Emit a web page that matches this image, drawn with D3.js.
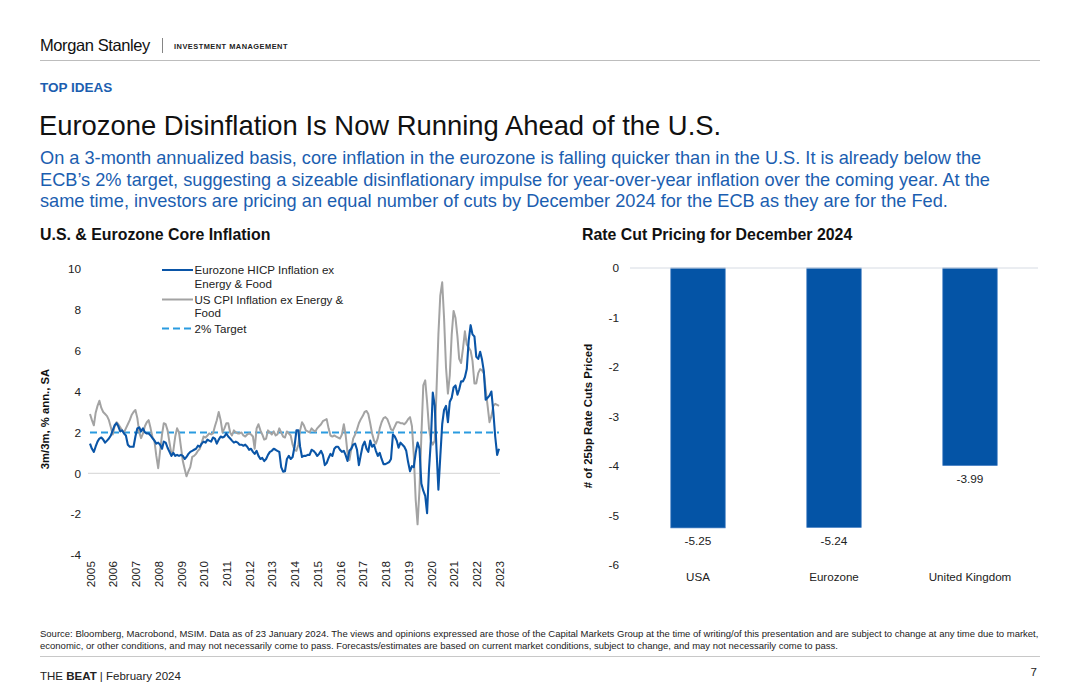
<!DOCTYPE html>
<html>
<head>
<meta charset="utf-8">
<script src="https://cdn.jsdelivr.net/npm/d3@7"></script>
<style>
  body { margin: 0; background: #fff; }
  svg text { font-family: "Liberation Sans", Arial, Helvetica, sans-serif; }
</style>
</head>
<body>
<svg id="page" width="1080" height="699"></svg>
<script>
// monthly series, Dec 2005 .. Dec 2023 (one row per year)
const firstMonth = new Date(2005, 11, 1);

const euroCore = [
  1.45,
  1.2, 1.05, 1.3, 1.55, 1.7, 1.75, 1.65, 1.5, 1.6, 1.7, 1.85, 2.1,
  2.35, 2.45, 2.3, 2.05, 2.1, 1.95, 1.85, 1.4, 1.3, 1.3, 1.3, 1.8,
  2.2, 2.25, 2.05, 2.2, 2.0, 1.95, 1.95, 1.85, 1.72, 1.6, 1.45, 1.5,
  1.4, 1.2, 1.55, 1.5, 1.25, 1.05, 0.85, 1.0, 0.85, 0.9, 0.85, 0.9,
  0.85, 0.7, 0.8, 0.95, 1.05, 1.1, 1.15, 1.2, 1.35, 1.3, 1.45, 1.55,
  1.5, 1.65, 1.6, 1.55, 1.75, 1.7, 1.45, 1.65, 1.8, 1.75, 1.8, 1.95,
  1.8, 1.7, 1.6, 1.5, 1.55, 1.5, 1.4, 1.4, 1.35, 1.4, 1.3, 1.15,
  1.2, 1.05, 0.95, 1.1, 0.85, 0.7, 0.75, 0.6, 0.7, 0.9, 1.05, 1.1,
  1.2, 1.15, 1.1, 1.05, 0.3, 0.08, 0.1, 0.7, 0.85, 0.7, 0.8, 1.3,
  2.1, 2.1, 1.3, 0.8, 0.85, 0.85, 0.9, 0.9, 1.15, 1.1, 1.0, 0.85,
  0.95, 1.1, 0.9, 0.4, 0.5, 0.75, 0.95, 0.85, 1.2, 1.3, 1.3, 1.15,
  1.05, 1.1, 0.9, 0.6, 1.1, 1.2, 1.4, 1.45, 1.15, 0.4, 0.9, 1.35,
  1.55, 1.2, 1.05, 1.6, 1.3, 1.4, 1.1, 0.85, 1.0, 0.7, 0.45, 0.45,
  0.5, 0.55, 0.7, 1.9, 1.8, 1.6, 1.25, 1.5, 1.4, 1.3, 1.1, 0.55,
  0.1, 0.35, 0.3, 1.0, 1.5, 1.2, -0.5, -0.85, -1.1, -1.95, 0.2, 1.6,
  3.95, 3.3, 1.2, -0.8, 0.8, 2.4, 3.1, 3.3, 2.5, 3.5, 3.7, 4.2,
  4.3, 3.85, 4.1, 4.5, 4.5, 4.7, 5.1, 6.5, 7.25, 6.8, 6.7, 5.7,
  5.6, 5.95, 5.6, 5.0, 3.6, 3.7, 3.8, 4.0, 3.0, 1.8, 0.9, 1.2
];

const usCore = [
  2.9,
  2.6, 2.35, 2.95, 3.3, 3.55, 3.2, 3.0, 2.9, 2.8, 2.6, 2.25, 1.9,
  2.3, 2.5, 2.4, 2.25, 2.1, 2.0, 2.2, 2.4, 2.6, 2.85, 3.0, 3.1,
  2.7, 2.0, 1.72, 1.95, 2.3, 2.5, 2.6, 2.2, 1.75, 1.6, 0.85, 0.25,
  1.1, 1.9, 2.45, 2.4, 2.1, 1.5, 0.95, 1.1, 1.8, 2.2, 2.0, 1.3,
  0.6, 0.2, -0.15, 0.1, 0.3, 0.8, 0.85, 0.95, 1.1, 1.2, 1.5, 1.8,
  1.75, 1.85, 1.95, 1.9, 1.95, 2.3, 2.6, 3.0, 2.6, 2.0, 2.2, 2.45,
  2.45, 2.0, 1.85, 2.1, 2.0, 1.95, 1.95, 2.0, 1.85, 1.8, 1.9, 1.95,
  1.9, 1.8, 1.2, 2.2, 2.4, 2.1, 1.9, 1.65, 1.7, 2.1, 2.0, 1.9,
  2.05, 1.85, 1.9, 2.2, 2.0, 1.8, 1.75, 2.05, 1.95, 1.85, 1.4, 1.15,
  1.1, 1.4, 2.1, 2.5, 2.35, 2.1, 2.05, 2.0, 2.2, 2.1, 2.05, 2.2,
  2.3, 2.4, 2.55, 2.6, 2.65, 2.2, 1.85, 1.8, 1.85, 1.8, 1.75, 1.7,
  1.9, 2.4, 1.9, 1.0, 0.65, 1.2, 1.7, 1.9, 2.15, 2.45, 2.65, 2.8,
  3.0, 3.05, 2.9, 2.45, 1.95, 1.6, 1.45, 1.72, 2.2, 2.5, 2.7, 2.75,
  2.65, 2.4, 2.15, 2.1, 2.3, 2.5, 2.5, 2.45, 2.45, 2.4, 2.5, 2.65,
  2.75, 2.3, 0.9, -1.3, -2.5, -0.8, 1.8, 4.3, 4.55, 3.5, 2.2, 1.6,
  1.4, 1.6, 4.0, 6.8, 8.7, 9.35, 7.6, 5.2, 3.9, 4.8, 6.8, 7.95,
  7.6, 6.7, 5.6, 5.4, 6.1, 6.95, 6.3, 6.15, 6.0, 5.5, 4.4, 4.4,
  4.9, 5.1, 5.05, 4.9, 4.1, 3.3, 2.5, 2.8, 3.3, 3.4, 3.35, 3.3
];

const ecbTarget = 2;
const tickYears = [2005, 2006, 2007, 2008, 2009, 2010, 2011, 2012, 2013, 2014,
                   2015, 2016, 2017, 2018, 2019, 2020, 2021, 2022, 2023];
const leftTicks = [-4, -2, 0, 2, 4, 6, 8, 10];

const barCategories = ["USA", "Eurozone", "United Kingdom"];
const barValues = [-5.25, -5.24, -3.99];
const rightTicks = [0, -1, -2, -3, -4, -5, -6];

const BLUE = "#0a55a7";
const GREY = "#a3a3a3";
const TARGET = "#2a9be0";
const MSBLUE = "#1b5eb0";
const FONT = '"Liberation Sans", Arial, sans-serif';
const plain = d => String(d);   // hyphen minus like the source, not U+2212

const svg = d3.select("#page");

// ---------- header ----------
svg.append("text").attr("x", 40).attr("y", 51)
  .attr("font-size", 16.5).attr("letter-spacing", -0.4).attr("fill", "#111")
  .text("Morgan Stanley");
svg.append("line").attr("x1", 162.5).attr("x2", 162.5).attr("y1", 38).attr("y2", 53)
  .attr("stroke", "#666").attr("stroke-width", 0.8);
svg.append("text").attr("x", 174).attr("y", 48.5)
  .attr("font-size", 7.4).attr("font-weight", "bold").attr("letter-spacing", 0.5).attr("fill", "#222")
  .text("INVESTMENT MANAGEMENT");
svg.append("line").attr("x1", 40).attr("x2", 1040).attr("y1", 60.5).attr("y2", 60.5)
  .attr("stroke", "#bdbdbd").attr("stroke-width", 1);

svg.append("text").attr("x", 40).attr("y", 91.5)
  .attr("font-size", 13.5).attr("font-weight", "bold").attr("fill", MSBLUE)
  .text("TOP IDEAS");

svg.append("text").attr("x", 39).attr("y", 135)
  .attr("font-size", 27.4).attr("fill", "#111")
  .text("Eurozone Disinflation Is Now Running Ahead of the U.S.");

const subLines = [
  "On a 3-month annualized basis, core inflation in the eurozone is falling quicker than in the U.S. It is already below the",
  "ECB\u2019s 2% target, suggesting a sizeable disinflationary impulse for year-over-year inflation over the coming year. At the",
  "same time, investors are pricing an equal number of cuts by December 2024 for the ECB as they are for the Fed."
];
svg.append("g").selectAll("text").data(subLines).join("text")
  .attr("x", 40).attr("y", (d, i) => 164 + i * 21.5)
  .attr("font-size", 18.2).attr("fill", MSBLUE)
  .text(d => d);

svg.append("text").attr("x", 40).attr("y", 239.5)
  .attr("font-size", 15.9).attr("font-weight", "bold").attr("fill", "#111")
  .text("U.S. & Eurozone Core Inflation");
svg.append("text").attr("x", 582).attr("y", 239.5)
  .attr("font-size", 15.9).attr("font-weight", "bold").attr("fill", "#111")
  .text("Rate Cut Pricing for December 2024");

// ---------- left chart: core inflation lines ----------
const months = euroCore.map((d, i) => d3.timeMonth.offset(firstMonth, i));
const x = d3.scaleTime()
  .domain([firstMonth, months[months.length - 1]])
  .range([90, 499]);
const y = d3.scaleLinear().domain([-4, 10]).range([555, 269]);

const left = svg.append("g");

left.append("line")
  .attr("x1", 88).attr("x2", 500).attr("y1", y(0)).attr("y2", y(0))
  .attr("stroke", "#d3d3d3").attr("stroke-width", 1);

const yAxisL = left.append("g").attr("transform", "translate(86,0)")
  .call(d3.axisLeft(y).tickValues(leftTicks).tickFormat(plain).tickSize(0).tickPadding(5));
yAxisL.select(".domain").remove();
yAxisL.selectAll("text").attr("font-size", 11.8).attr("fill", "#222")
  .style("font-family", FONT);

const xAxisL = left.append("g").attr("transform", "translate(0,559)")
  .call(d3.axisBottom(x)
    .tickValues(tickYears.map(yr => new Date(yr, 11, 1)))
    .tickFormat(d3.timeFormat("%Y"))
    .tickSize(0));
xAxisL.select(".domain").remove();
xAxisL.selectAll("text")
  .attr("font-size", 11.8).attr("fill", "#222")
  .style("font-family", FONT)
  .attr("text-anchor", "end")
  .attr("transform", "rotate(-90)")
  .attr("x", -2).attr("y", 0).attr("dy", "0.35em");

left.append("text")
  .attr("transform", "translate(49,419) rotate(-90)")
  .attr("text-anchor", "middle")
  .attr("font-size", 11.3).attr("font-weight", "bold").attr("fill", "#111")
  .text("3m/3m, % ann., SA");

// 2% target
left.append("line")
  .attr("x1", x(months[0])).attr("x2", x(months[months.length - 1]))
  .attr("y1", y(ecbTarget)).attr("y2", y(ecbTarget))
  .attr("stroke", TARGET).attr("stroke-width", 2).attr("stroke-dasharray", "7,4");

const line = d3.line().x((d, i) => x(months[i])).y(d => y(d));

left.append("path").datum(usCore)
  .attr("d", line).attr("fill", "none")
  .attr("stroke", GREY).attr("stroke-width", 2).attr("stroke-linejoin", "round");
left.append("path").datum(euroCore)
  .attr("d", line).attr("fill", "none")
  .attr("stroke", BLUE).attr("stroke-width", 2.1).attr("stroke-linejoin", "round");

// legend
const legend = [
  { lines: ["Eurozone HICP Inflation ex", "Energy & Food"], color: BLUE, dash: null, y: 270 },
  { lines: ["US CPI Inflation ex Energy &", "Food"], color: GREY, dash: null, y: 299.5 },
  { lines: ["2% Target"], color: TARGET, dash: "7,4", y: 328.5 }
];
const lg = left.append("g");
legend.forEach(item => {
  lg.append("line")
    .attr("x1", 162).attr("x2", 193).attr("y1", item.y).attr("y2", item.y)
    .attr("stroke", item.color).attr("stroke-width", 2)
    .attr("stroke-dasharray", item.dash);
  item.lines.forEach((t, j) => {
    lg.append("text")
      .attr("x", 194.5).attr("y", item.y + j * 13.5).attr("dy", "0.35em")
      .attr("font-size", 11.6).attr("fill", "#222")
      .text(t);
  });
});

// ---------- right chart: rate cut bars ----------
const xb = d3.scaleBand().domain(barCategories).range([630, 1038])
  .paddingInner(0.6).paddingOuter(0.3);
const yb = d3.scaleLinear().domain([-6, 0]).range([565, 268]);

const right = svg.append("g");

const yAxisR = right.append("g").attr("transform", "translate(624,0)")
  .call(d3.axisLeft(yb).tickValues(rightTicks).tickFormat(plain).tickSize(0).tickPadding(5));
yAxisR.select(".domain").remove();
yAxisR.selectAll("text").attr("font-size", 11.8).attr("fill", "#222")
  .style("font-family", FONT);

right.append("g").selectAll("rect").data(barValues).join("rect")
  .attr("x", (d, i) => xb(barCategories[i]))
  .attr("width", xb.bandwidth())
  .attr("y", yb(0))
  .attr("height", d => yb(d) - yb(0))
  .attr("fill", "#0454a6")
  .attr("stroke", "#3d78c0").attr("stroke-width", 0.7);

right.append("line")
  .attr("x1", 630).attr("x2", 1038).attr("y1", yb(0)).attr("y2", yb(0))
  .attr("stroke", "#d6dbe3").attr("stroke-width", 1);

right.append("g").selectAll("text").data(barValues).join("text")
  .attr("x", (d, i) => xb(barCategories[i]) + xb.bandwidth() / 2)
  .attr("y", d => yb(d) + 13).attr("dy", "0.35em")
  .attr("text-anchor", "middle").attr("font-size", 11.8).attr("fill", "#222")
  .text(d => d.toFixed(2));

const xAxisR = right.append("g").attr("transform", "translate(0,567)")
  .call(d3.axisBottom(xb).tickSize(0).tickPadding(6));
xAxisR.select(".domain").remove();
xAxisR.selectAll("text").attr("font-size", 11.6).attr("fill", "#222")
  .style("font-family", FONT);

right.append("text")
  .attr("transform", "translate(592,416) rotate(-90)")
  .attr("text-anchor", "middle")
  .attr("font-size", 11.4).attr("font-weight", "bold").attr("fill", "#111")
  .text("# of 25bp Rate Cuts Priced");

// ---------- footer ----------
const srcLines = [
  "Source: Bloomberg, Macrobond, MSIM. Data as of 23 January 2024. The views and opinions expressed are those of the Capital Markets Group at the time of writing/of this presentation and are subject to change at any time due to market,",
  "economic, or other conditions, and may not necessarily come to pass. Forecasts/estimates are based on current market conditions, subject to change, and may not necessarily come to pass."
];
svg.append("g").selectAll("text").data(srcLines).join("text")
  .attr("x", 40).attr("y", (d, i) => 637 + i * 11.5)
  .attr("font-size", 9.5).attr("fill", "#222")
  .text(d => d);

svg.append("line").attr("x1", 40).attr("x2", 1040).attr("y1", 656.5).attr("y2", 656.5)
  .attr("stroke", "#c8c8c8").attr("stroke-width", 1);

const foot = svg.append("text").attr("x", 40).attr("y", 679.5)
  .attr("font-size", 11.5).attr("fill", "#222");
foot.append("tspan").text("THE ");
foot.append("tspan").attr("font-weight", "bold").text("BEAT");
foot.append("tspan").text(" | February 2024");

svg.append("text").attr("x", 1037).attr("y", 675.5).attr("text-anchor", "end")
  .attr("font-size", 11.5).attr("fill", "#222").text("7");
</script>
</body>
</html>
